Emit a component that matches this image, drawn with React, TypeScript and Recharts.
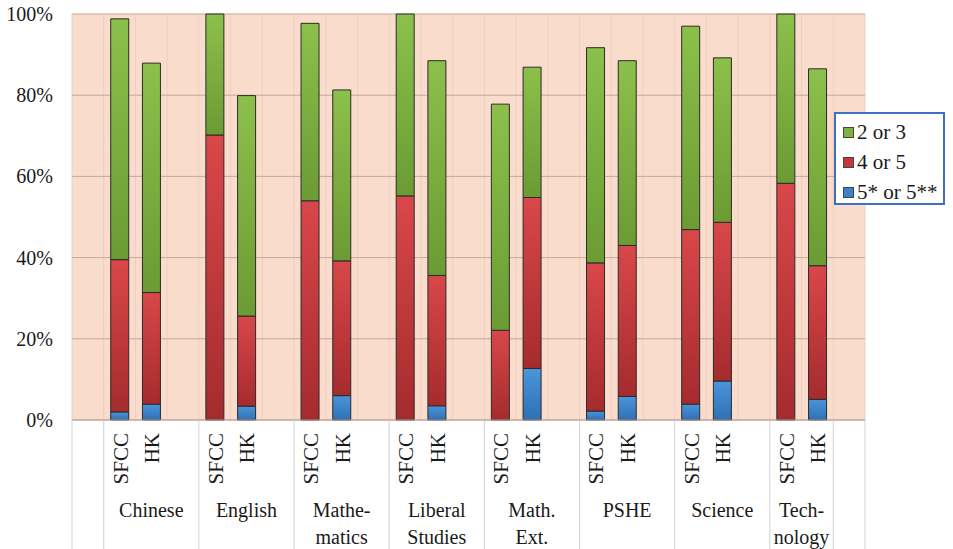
import React from 'react';
import { BarChart, Bar, XAxis, YAxis, CartesianGrid } from 'recharts';

// subjects (multi-line labels) and the two schools compared in each
const subjects = [['Chinese'], ['English'], ['Mathe-', 'matics'], ['Liberal', 'Studies'], ['Math.', 'Ext.'], ['PSHE'], ['Science'], ['Tech-', 'nology']];
const schools = ['SFCC', 'HK'];

// % of students per grade band
const blueSfcc = [2.0, 0, 0, 0, 0, 2.2, 3.9, 0];
const blueHk = [3.9, 3.4, 6.0, 3.5, 12.7, 5.8, 9.6, 5.1];
const redSfcc = [37.5, 70.2, 54.0, 55.2, 22.1, 36.5, 43.0, 58.3];
const redHk = [27.5, 22.2, 33.2, 32.1, 42.1, 37.2, 39.1, 32.9];
const greenSfcc = [59.3, 29.8, 43.7, 44.8, 55.7, 53.0, 50.1, 41.7];
const greenHk = [56.5, 54.3, 42.1, 52.9, 32.1, 45.5, 40.5, 48.5];

const yTicks = [0, 20, 40, 60, 80, 100];

const W = 953;
const H = 549;
const PLOT_TOP = 14;
const PLOT_LEFT = 72;
const PLOT_RIGHT = 865;
const PLOT_BOTTOM = 420;
const FONT = '"Liberation Serif", "Times New Roman", serif';

type Row = {
  key: string;
  school: string;
  subject: string[] | null;
  span: number;
  groupStart: boolean;
  last?: boolean;
  blue?: number;
  red?: number;
  green?: number;
};

const rows: Row[] = [{ key: 'pad0', school: '', subject: null, span: 1, groupStart: true }];
subjects.forEach((s, i) => {
  const isLast = i === subjects.length - 1;
  rows.push({ key: `${i}-${schools[0]}`, school: schools[0], subject: s, span: isLast ? 2 : 3, groupStart: true, blue: blueSfcc[i], red: redSfcc[i], green: greenSfcc[i] });
  rows.push({ key: `${i}-${schools[1]}`, school: schools[1], subject: null, span: 0, groupStart: false, blue: blueHk[i], red: redHk[i], green: greenHk[i] });
  if (!isLast) rows.push({ key: `gap${i}`, school: '', subject: null, span: 0, groupStart: false });
});
rows.push({ key: 'pad1', school: '', subject: null, span: 1, groupStart: true, last: true });

const rowByKey: Record<string, Row> = {};
rows.forEach(r => { rowByKey[r.key] = r; });

const slotW = (PLOT_RIGHT - PLOT_LEFT) / rows.length;

// draws the two-level category labels plus the separator lines below the plot
const SlotTick = (props: any) => {
  const { x, payload } = props;
  const row = rowByKey[payload.value];
  if (!row) return null;
  const half = slotW / 2;
  const labelX = x - half + (row.span * slotW) / 2;
  return (
    <g>
      {row.groupStart && (
        <line x1={x - half} y1={PLOT_BOTTOM} x2={x - half} y2={H} stroke="#d2d2d2" strokeWidth={1} />
      )}
      {row.last && (
        <line x1={x + half} y1={PLOT_BOTTOM} x2={x + half} y2={H} stroke="#d2d2d2" strokeWidth={1} />
      )}
      {row.school && (
        <text
          x={0}
          y={0}
          transform={`translate(${x + 8}, ${PLOT_BOTTOM + 13}) rotate(-90)`}
          textAnchor="end"
          style={{ fontFamily: FONT, fontSize: 21 }}
          fill="#1a1a1a"
        >
          {row.school}
        </text>
      )}
      {row.subject && row.subject.map((line, i) => (
        <text key={i} x={labelX} y={PLOT_BOTTOM + 97 + i * 27} textAnchor="middle" style={{ fontFamily: FONT, fontSize: 20 }} fill="#1a1a1a">
          {line}
        </text>
      ))}
    </g>
  );
};

const YTick = (props: any) => {
  const { y, payload } = props;
  return (
    <text x={PLOT_LEFT - 19} y={y + 7} textAnchor="end" style={{ fontFamily: FONT, fontSize: 20 }} fill="#1a1a1a">
      {`${payload.value}%`}
    </text>
  );
};

const legendItems = [
  { label: '2 or 3', color: '#7fb23f' },
  { label: '4 or 5', color: '#c93639' },
  { label: '5* or 5**', color: '#3a82cc' },
];

const LegendBox = () => (
  <div style={{
    position: 'absolute',
    left: 834,
    top: 112,
    width: 111,
    height: 93,
    boxSizing: 'border-box',
    border: '2px solid #3d6fc2',
    background: '#ffffff',
    paddingTop: 3,
    fontFamily: FONT,
  }}>
    {legendItems.map(item => (
      <div key={item.label} style={{ display: 'flex', alignItems: 'center', height: 30, paddingLeft: 7 }}>
        <span style={{ width: 9, height: 9, background: item.color, border: '1px solid #444', marginRight: 3 }} />
        <span style={{ fontFamily: FONT, fontSize: 21, color: '#1a1a1a', whiteSpace: 'nowrap' }}>{item.label}</span>
      </div>
    ))}
  </div>
);

export default function App() {
  return (
    <div style={{ position: 'absolute', left: 0, top: 0, width: W, height: H, background: '#ffffff', fontFamily: FONT }}>
      <BarChart
        width={W}
        height={H}
        data={rows}
        margin={{ top: PLOT_TOP, right: W - PLOT_RIGHT, left: 0, bottom: 0 }}
        barSize={18}
      >
        <defs>
          <linearGradient id="gGreen" x1="0" y1="0" x2="0" y2="1">
            <stop offset="0%" stopColor="#8cc04b" />
            <stop offset="100%" stopColor="#6b9b33" />
          </linearGradient>
          <linearGradient id="gRed" x1="0" y1="0" x2="0" y2="1">
            <stop offset="0%" stopColor="#d9474a" />
            <stop offset="100%" stopColor="#a52b2d" />
          </linearGradient>
          <linearGradient id="gBlue" x1="0" y1="0" x2="0" y2="1">
            <stop offset="0%" stopColor="#4b95da" />
            <stop offset="100%" stopColor="#2f70b6" />
          </linearGradient>
        </defs>
        <CartesianGrid
          horizontal={false}
          fill="#f9dccc"
          fillOpacity={1}
          stroke="#efcfc0"
          verticalCoordinatesGenerator={({ offset }: any) =>
            Array.from({ length: rows.length + 1 }, (_, i) => offset.left + (i * offset.width) / rows.length)
          }
        />
        <CartesianGrid vertical={false} stroke="#c6a79b" />
        <XAxis
          dataKey="key"
          interval={0}
          height={H - PLOT_BOTTOM}
          tickLine={false}
          axisLine={{ stroke: '#b9a49c' }}
          tick={<SlotTick />}
        />
        <YAxis
          width={PLOT_LEFT}
          domain={[0, 100]}
          ticks={yTicks}
          tickLine={false}
          axisLine={false}
          tick={<YTick />}
        />
        <Bar dataKey="blue" name="5* or 5**" stackId="a" fill="url(#gBlue)" stroke="#2b2b2b" strokeWidth={1} isAnimationActive={false} />
        <Bar dataKey="red" name="4 or 5" stackId="a" fill="url(#gRed)" stroke="#2b2b2b" strokeWidth={1} isAnimationActive={false} />
        <Bar dataKey="green" name="2 or 3" stackId="a" fill="url(#gGreen)" stroke="#2b2b2b" strokeWidth={1} isAnimationActive={false} />
      </BarChart>
      <LegendBox />
    </div>
  );
}
